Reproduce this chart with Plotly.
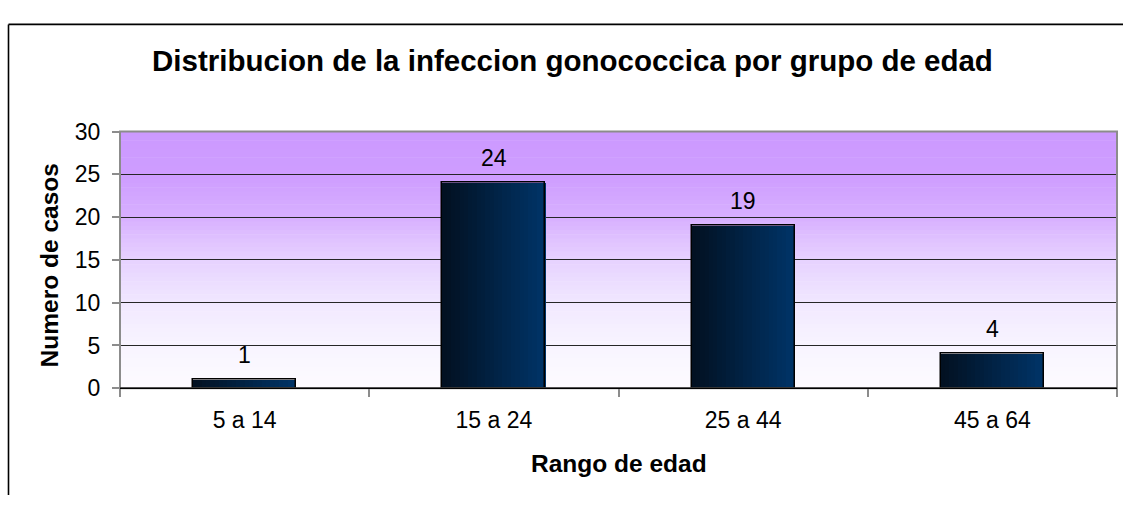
import plotly.graph_objects as go

categories = ["5 a 14", "15 a 24", "25 a 44", "45 a 64"]
casos = [1, 24, 19, 4]
y_ticks = [0, 5, 10, 15, 20, 25, 30]

title_text = "Distribucion de la infeccion gonococcica por grupo de edad"
x_title = "Rango de edad"
y_title = "Numero de casos"

W, H = 1123, 508
FONT = "Liberation Sans, Arial, sans-serif"

# plot area in screen pixels
PX0, PX1 = 120, 1117
PY0, PY1 = 125, 395.5  # top, bottom

def px(x):
    return x / W

def py(y):
    return (H - y) / H

# background gradient stops (fraction from top, rgb)
bg_stops = [
    (0.00, (204, 153, 255)),
    (0.17, (206, 157, 255)),
    (0.33, (215, 175, 255)),
    (0.50, (231, 210, 255)),
    (0.67, (241, 232, 255)),
    (0.83, (248, 244, 255)),
    (1.00, (253, 251, 255)),
]

def interp(stops, t):
    for (t0, c0), (t1, c1) in zip(stops[:-1], stops[1:]):
        if t0 <= t <= t1:
            f = (t - t0) / (t1 - t0) if t1 > t0 else 0
            return tuple(round(a + (b - a) * f) for a, b in zip(c0, c1))
    return stops[-1][1]

shapes = []
N_BG = 60
for i in range(N_BG):
    t = (i + 0.5) / N_BG
    c = interp(bg_stops, t)
    shapes.append(dict(
        type="rect", xref="x domain", yref="y domain",
        x0=0, x1=1, y0=max(0, 1 - (i + 1) / N_BG - 0.002), y1=1 - i / N_BG,
        fillcolor="rgb(%d,%d,%d)" % c, line=dict(width=0), layer="below",
    ))

# plot-area border (gray) and bottom axis line (black)
shapes.append(dict(type="rect", xref="x domain", yref="y domain", x0=0, x1=1, y0=0, y1=1,
                   line=dict(color="#8c8c8c", width=2), layer="above"))
shapes.append(dict(type="line", xref="x domain", yref="y domain", x0=0, x1=1, y0=0, y1=0,
                   line=dict(color="#000000", width=1.5), layer="above"))
# outer chart border (top and left edges visible)
shapes.append(dict(type="line", xref="paper", yref="paper",
                   x0=px(8.5), x1=1, y0=py(12), y1=py(12),
                   line=dict(color="#000000", width=1.6), layer="above"))
shapes.append(dict(type="line", xref="paper", yref="paper",
                   x0=px(8.5), x1=px(8.5), y0=0, y1=py(12),
                   line=dict(color="#000000", width=1.6), layer="above"))

fig = go.Figure()

# bars with left-to-right gradient built from vertical strips
BAR_W = 0.413
N_STRIPS = 24
c_left = (2, 16, 32)
c_right = (0, 52, 104)
for k in range(N_STRIPS):
    f = (k + 0.5) / N_STRIPS
    col = tuple(round(a + (b - a) * f) for a, b in zip(c_left, c_right))
    fig.add_trace(go.Bar(
        x=categories, y=casos,
        width=BAR_W / N_STRIPS * 1.05,
        offset=-BAR_W / 2 + k * BAR_W / N_STRIPS,
        marker=dict(color="rgb(%d,%d,%d)" % col, line=dict(width=0)),
        hoverinfo="skip", showlegend=False,
    ))
# outline
fig.add_trace(go.Bar(
    x=categories, y=casos, width=BAR_W, offset=-BAR_W / 2,
    marker=dict(color="rgba(0,0,0,0)", line=dict(color="#000000", width=1.5)),
    showlegend=False, name="Casos", hoverinfo="skip",
))

annotations = []
for c, v in zip(categories, casos):
    annotations.append(dict(
        x=c, y=v, xref="x", yref="y", text=str(v), showarrow=False,
        yanchor="middle", yshift=25, font=dict(family=FONT, size=23, color="#000000"),
    ))
annotations.append(dict(
    x=px(572), y=py(50), xref="paper", yref="paper", text="<b>%s</b>" % title_text,
    showarrow=False, xanchor="center", yanchor="middle",
    font=dict(family=FONT, size=29.5, color="#000000"),
))
annotations.append(dict(
    x=px((PX0 + PX1) / 2), y=py(475), xref="paper", yref="paper", text="<b>%s</b>" % x_title,
    showarrow=False, xanchor="center", yanchor="middle",
    font=dict(family=FONT, size=24.5, color="#000000"),
))
annotations.append(dict(
    x=px(49), y=py(266), xref="paper", yref="paper", text="<b>%s</b>" % y_title,
    showarrow=False, xanchor="center", yanchor="middle", textangle=-90,
    font=dict(family=FONT, size=24.5, color="#000000"),
))

fig.update_layout(
    width=W, height=H, autosize=False,
    margin=dict(l=0, r=0, t=0, b=0),
    paper_bgcolor="#ffffff", plot_bgcolor="rgba(0,0,0,0)",
    barmode="overlay", bargap=0, hovermode=False,
    shapes=shapes, annotations=annotations,
    font=dict(family=FONT, color="#000000"),
    xaxis=dict(
        domain=[px(PX0), px(PX1)], type="category",
        tickson="boundaries", ticks="outside", ticklen=8, tickcolor="#8c8c8c", tickwidth=1.5,
        showgrid=False, showline=False, zeroline=False,
        tickfont=dict(family=FONT, size=23, color="#000000"),
        ticklabelstandoff=16,
    ),
    yaxis=dict(
        domain=[py(PY1), py(PY0)], range=[0, 30], tickvals=y_ticks,
        ticks="outside", ticklen=7, tickcolor="#8c8c8c", tickwidth=1.5,
        showgrid=True, gridcolor="#262626", gridwidth=1,
        showline=False, zeroline=False,
        tickfont=dict(family=FONT, size=23, color="#000000"),
        ticklabelstandoff=7,
    ),
)

fig.write_html(
    "out.html",
    config={"displayModeBar": False},
    post_script="document.body.style.margin='0';document.body.style.overflow='hidden';",
)
